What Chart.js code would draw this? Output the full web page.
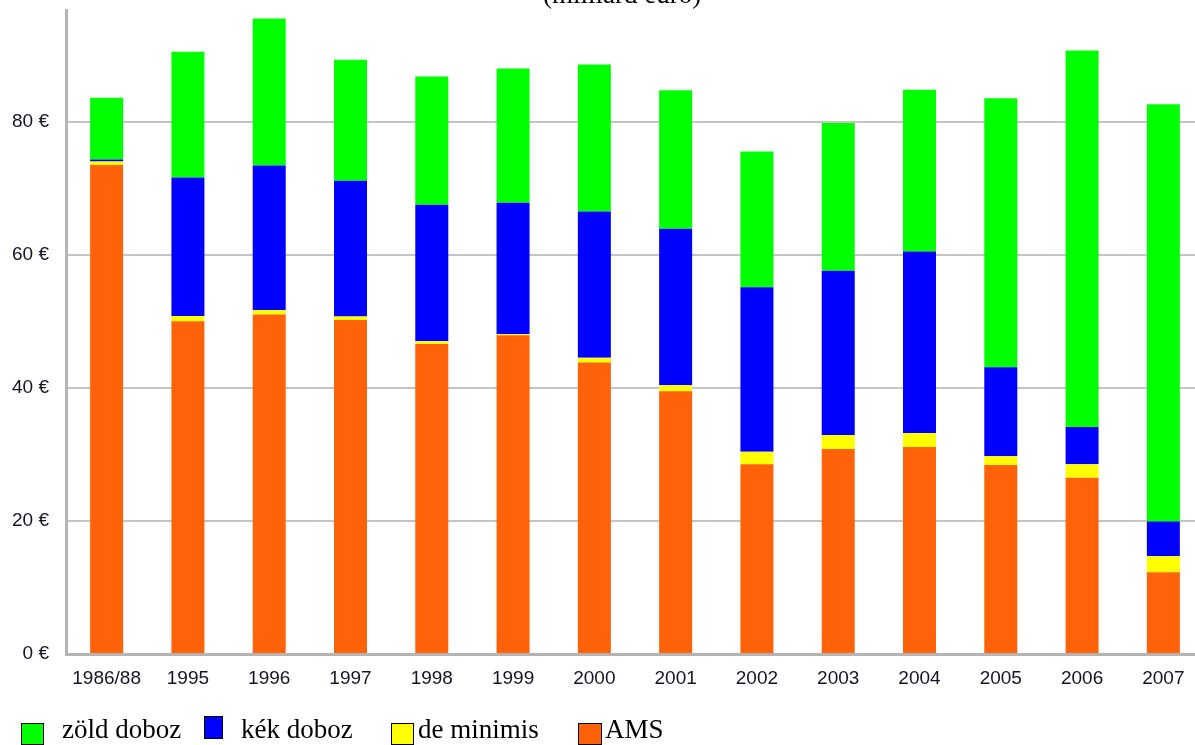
<!DOCTYPE html>
<html lang="hu">
<head>
<meta charset="utf-8">
<title>Támogatások (milliárd euró)</title>
<script src="https://cdn.jsdelivr.net/npm/chart.js@4.4.1/dist/chart.umd.min.js"></script>
<style>
    html, body { margin: 0; padding: 0; background: #fff; }
    body { width: 1195px; height: 745px; overflow: hidden; position: relative; }
    /* a vászon kicsit feljebb kezdődik, így a diagram teteje 10px-nél van */
    #myChart { position: absolute; left: 0; top: -16px; }
    .cim, .leg-text {
        position: absolute;
        font-family: 'Liberation Serif', 'Times New Roman', serif;
        font-size: 27px;
        line-height: 27px;
        color: #000;
        white-space: nowrap;
    }
    .cim { top: -19px; left: 543px; }
    .leg-box { position: absolute; box-sizing: border-box; border: 1.5px solid #000; }
</style>
</head>
<body>
<canvas id="myChart" width="1210" height="761"></canvas>
<div class="cim">(milliárd euró)</div>

<div class="leg-box" style="left:21px;top:723px;width:23px;height:22px;background:#00ff00"></div>
<div class="leg-text" style="left:62px;top:716px">zöld doboz</div>
<div class="leg-box" style="left:204px;top:716px;width:19px;height:23px;background:#0000ff"></div>
<div class="leg-text" style="left:241px;top:716px">kék doboz</div>
<div class="leg-box" style="left:391px;top:723px;width:23px;height:22px;background:#ffff00"></div>
<div class="leg-text" style="left:418px;top:716px">de minimis</div>
<div class="leg-box" style="left:578px;top:723px;width:24px;height:22px;background:#ff6208"></div>
<div class="leg-text" style="left:605px;top:716px">AMS</div>

<script>
// adatok (milliárd euró)
const categories = ['1986/88', '1995', '1996', '1997', '1998', '1999', '2000',
    '2001', '2002', '2003', '2004', '2005', '2006', '2007'];
const amsValues = [73.5, 50.0, 51.0, 50.2, 46.6, 47.9, 43.8, 39.5, 28.5, 30.8, 31.1, 28.4, 26.5, 12.3];
const deMinimisValues = [0.5, 0.8, 0.7, 0.5, 0.4, 0.2, 0.7, 0.9, 1.9, 2.1, 2.1, 1.3, 2.0, 2.4];
const kekValues = [0.3, 20.8, 21.7, 20.4, 20.5, 19.7, 22.0, 23.5, 24.7, 24.7, 27.3, 13.4, 5.6, 5.2];
const zoldValues = [9.3, 18.9, 22.1, 18.2, 19.3, 20.2, 22.1, 20.8, 20.4, 22.2, 24.3, 40.4, 56.6, 62.7];
const yTickValues = [0, 20, 40, 60, 80];
const yMax = 96.7;

document.addEventListener('DOMContentLoaded', function () {
    function initializeChart() {
        const ctx = document.getElementById('myChart').getContext('2d');
        const tickFont = { family: "'Liberation Sans', Arial, sans-serif", size: 19, lineHeight: 1 };

        function barSet(label, data, color) {
            return {
                label: label,
                data: data,
                backgroundColor: color,
                borderWidth: 0,
                barPercentage: 0.406,
                categoryPercentage: 1
            };
        }

        new Chart(ctx, {
            type: 'bar',
            data: {
                labels: categories,
                datasets: [
                    barSet('AMS', amsValues, '#ff6208'),
                    barSet('de minimis', deMinimisValues, '#ffff00'),
                    barSet('kék doboz', kekValues, '#0000ff'),
                    barSet('zöld doboz', zoldValues, '#00ff00')
                ]
            },
            options: {
                responsive: false,
                animation: false,
                devicePixelRatio: 1,
                layout: { padding: { top: 10, right: 6, bottom: 0, left: 0 } },
                plugins: {
                    legend: { display: false },
                    tooltip: { enabled: false }
                },
                scales: {
                    x: {
                        stacked: true,
                        grid: { display: false, drawTicks: false },
                        border: { display: true, color: '#b4b4b4', width: 3 },
                        ticks: { color: '#141424', font: tickFont, padding: 15, maxRotation: 0, autoSkip: false },
                        afterFit: function (scale) { scale.height = 91; }
                    },
                    y: {
                        stacked: true,
                        min: 0,
                        max: yMax,
                        grid: { color: '#c4c4c4', lineWidth: 2, drawTicks: false },
                        border: { display: true, color: '#b4b4b4', width: 3 },
                        ticks: {
                            color: '#141424',
                            font: tickFont,
                            padding: 17,
                            callback: function (value) { return value + ' €'; }
                        },
                        afterBuildTicks: function (scale) {
                            scale.ticks = yTickValues.map(function (v) { return { value: v }; });
                        },
                        afterFit: function (scale) { scale.width = 66; }
                    }
                }
            }
        });
    }

    initializeChart();
});
</script>
</body>
</html>
